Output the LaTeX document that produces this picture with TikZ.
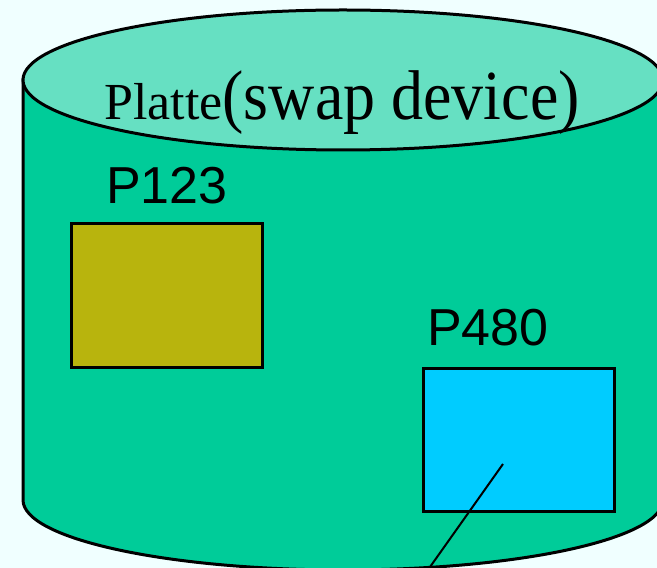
\documentclass[tikz,border=0pt]{standalone}
\usepackage{fontspec}
\setmainfont{Liberation Serif}
\newfontfamily\arialfont{Liberation Sans}
\definecolor{bgcol}{HTML}{F0FFFF}
\definecolor{bodycol}{HTML}{00CC99}
\definecolor{topcol}{HTML}{66E0C2}
\definecolor{olivecol}{HTML}{B8B40D}
\definecolor{bluecol}{HTML}{00CCFF}
\tikzset{
  outline/.style={draw=black, line width=3pt},
  pagebox/.style={outline, minimum width=191pt, minimum height=143pt, inner sep=0pt},
  plabel/.style={font=\arialfont\fontsize{52}{60}\selectfont, inner sep=0pt, anchor=base west},
  pointer/.style={draw=black, line width=2pt}
}
\begin{document}
\begin{tikzpicture}[x=1pt,y=1pt]
\useasboundingbox (0,0) rectangle (657,568);
\fill[bgcol] (0,0) rectangle (657,568);
% cylinder body
\draw[outline, fill=bodycol] (23,488) -- (23,68)
  arc[start angle=180, end angle=360, x radius=320pt, y radius=70pt] -- (663,488) -- cycle;
% top ellipse
\draw[outline, fill=topcol] (343,488) ellipse[x radius=320pt, y radius=70pt];
\node[inner sep=0pt, anchor=base west] (title) at (104,448)
  {\fontsize{52}{60}\selectfont Platte\scalebox{1}[1.1]{\fontsize{64}{70}\selectfont(swap device)}};
% pages
\node[pagebox, fill=olivecol, minimum height=144pt] (p123box) at (167,272.5) {};
\node[plabel] (p123) at (106,364) {P123};
\node[pagebox, fill=bluecol] (p480box) at (519,128) {};
\node[plabel] (p480) at (427,222) {P480};
% pointer
\coordinate (ptrstart) at (503,104);
\coordinate (ptrend) at (430,1);
\draw[pointer] (ptrstart) -- (ptrend);
\end{tikzpicture}
\end{document}
